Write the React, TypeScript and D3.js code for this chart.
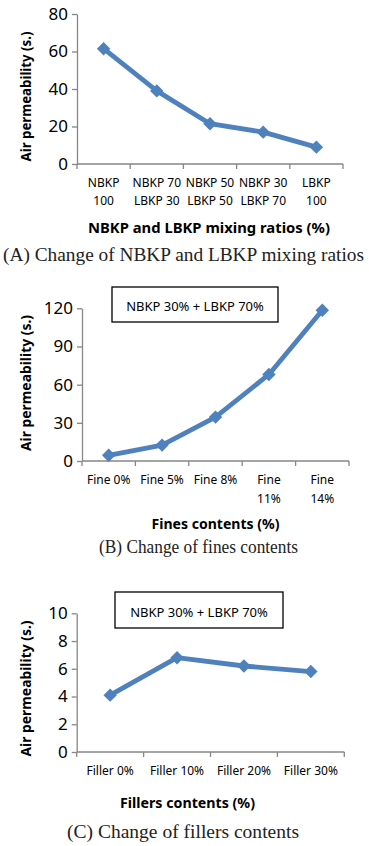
import React, { useEffect, useRef } from 'react';
import * as d3 from 'd3';

// chart A
const mixCategories = [
  ['NBKP', '100'],
  ['NBKP 70', 'LBKP 30'],
  ['NBKP 50', 'LBKP 50'],
  ['NBKP 30', 'LBKP 70'],
  ['LBKP', '100'],
];
const mixValues = [61.5, 39, 21.5, 17, 9];
const mixTicks = [0, 20, 40, 60, 80];

// chart B
const fineCategories = [['Fine 0%'], ['Fine 5%'], ['Fine 8%'], ['Fine', '11%'], ['Fine', '14%']];
const fineValues = [4.5, 12.5, 34.5, 68, 118.5];
const fineTicks = [0, 30, 60, 90, 120];

// chart C
const fillerCategories = [['Filler 0%'], ['Filler 10%'], ['Filler 20%'], ['Filler 30%']];
const fillerValues = [4.1, 6.8, 6.2, 5.8];
const fillerTicks = [0, 2, 4, 6, 8, 10];

const boxLabel = 'NBKP 30% + LBKP 70%';
const yTitle = 'Air permeability (s.)';

const BLUE = '#4f81bd';
const AXIS = '#868686';
const SANS = '"Noto Sans", "Open Sans", sans-serif';
const SERIF = '"Liberation Serif", "DejaVu Serif", serif';

interface PanelSpec {
  cats: string[][];
  values: number[];
  ticks: number[];
  x0: number;
  x1: number;
  yTop: number;
  yBottom: number;
  labelY: number;
  lineGap: number;
  xTitle: string;
  xTitleX: number;
  xTitleY: number;
  xTitleW: number;
  yTitleY: number;
  yTitleW: number;
  caption: string;
  captionX: number;
  captionY: number;
  captionW: number;
  box?: { x: number; y: number; w: number; h: number; textY: number };
}

const panels: PanelSpec[] = [
  {
    cats: mixCategories, values: mixValues, ticks: mixTicks,
    x0: 77, x1: 343, yTop: 14, yBottom: 164,
    labelY: 187, lineGap: 18,
    xTitle: 'NBKP and LBKP mixing ratios (%)', xTitleX: 209, xTitleY: 233, xTitleW: 242,
    yTitleY: 96.5, yTitleW: 130,
    caption: '(A) Change of NBKP and LBKP mixing ratios', captionX: 183.5, captionY: 261, captionW: 361,
  },
  {
    cats: fineCategories, values: fineValues, ticks: fineTicks,
    x0: 82, x1: 349, yTop: 308.3, yBottom: 461,
    labelY: 484, lineGap: 19,
    xTitle: 'Fines contents (%)', xTitleX: 215.5, xTitleY: 529, xTitleW: 128,
    yTitleY: 383, yTitleW: 136,
    caption: '(B) Change of fines contents', captionX: 198.5, captionY: 553, captionW: 199,
    box: { x: 112, y: 287, w: 166, h: 35, textY: 311 },
  },
  {
    cats: fillerCategories, values: fillerValues, ticks: fillerTicks,
    x0: 76.7, x1: 344.3, yTop: 613.3, yBottom: 752,
    labelY: 775, lineGap: 18,
    xTitle: 'Fillers contents (%)', xTitleX: 187.5, xTitleY: 808, xTitleW: 135,
    yTitleY: 688.5, yTitleW: 136,
    caption: '(C) Change of fillers contents', captionX: 183, captionY: 838, captionW: 232,
    box: { x: 115, y: 592, w: 168, h: 36, textY: 617 },
  },
];

const drawPanel = (root: d3.Selection<SVGSVGElement, unknown, null, undefined>, p: PanelSpec) => {
  const g = root.append('g');
  const idx = p.values.map((_, i) => String(i));

  const x = d3.scaleBand().domain(idx).range([p.x0, p.x1]).paddingInner(0).paddingOuter(0);
  const y = d3.scaleLinear().domain([0, p.ticks[p.ticks.length - 1]]).range([p.yBottom, p.yTop]);
  const cx = (i: number) => (x(String(i)) || 0) + x.bandwidth() / 2;

  // y axis
  const yAxis = g.append('g')
    .attr('transform', `translate(${p.x0},0)`)
    .call(d3.axisLeft(y).tickValues(p.ticks).tickSize(5).tickSizeOuter(0).tickPadding(4));
  yAxis.select('.domain').attr('stroke', AXIS).attr('stroke-width', 1.3);
  yAxis.selectAll('.tick line').attr('stroke', AXIS).attr('stroke-width', 1.3);
  yAxis.selectAll('.tick text')
    .attr('font-family', SANS)
    .attr('font-size', 17)
    .attr('fill', '#000');

  // x axis, ticks on the band edges
  g.append('line')
    .attr('x1', p.x0).attr('x2', p.x1)
    .attr('y1', p.yBottom).attr('y2', p.yBottom)
    .attr('stroke', AXIS).attr('stroke-width', 1.3);
  const edges = idx.map((d) => x(d) || 0).concat([p.x1]);
  g.selectAll('.xtick')
    .data(edges)
    .enter()
    .append('line')
    .attr('x1', (d) => d).attr('x2', (d) => d)
    .attr('y1', p.yBottom).attr('y2', p.yBottom + 5)
    .attr('stroke', AXIS).attr('stroke-width', 1.3);

  // category labels
  g.selectAll('.xlab')
    .data(p.cats)
    .enter()
    .append('text')
    .attr('text-anchor', 'middle')
    .attr('font-family', SANS)
    .attr('font-size', 12)
    .attr('fill', '#000')
    .each(function (lines, i) {
      d3.select(this)
        .selectAll('tspan')
        .data(lines)
        .enter()
        .append('tspan')
        .attr('x', cx(i))
        .attr('y', (_, j) => p.labelY + j * p.lineGap)
        .text((t) => t);
    });

  // line + diamond markers
  const line = d3.line<number>()
    .x((_, i) => cx(i))
    .y((d) => y(d));
  g.append('path')
    .datum(p.values)
    .attr('d', line)
    .attr('fill', 'none')
    .attr('stroke', BLUE)
    .attr('stroke-width', 4.8)
    .attr('stroke-linejoin', 'round');
  const diamond = d3.symbol().type(d3.symbolDiamond2).size(115);
  g.selectAll('.mark')
    .data(p.values)
    .enter()
    .append('path')
    .attr('d', diamond)
    .attr('transform', (d, i) => `translate(${cx(i)},${y(d)})`)
    .attr('fill', BLUE);

  if (p.box) {
    g.append('rect')
      .attr('x', p.box.x).attr('y', p.box.y)
      .attr('width', p.box.w).attr('height', p.box.h)
      .attr('fill', '#fff').attr('stroke', '#000').attr('stroke-width', 1.3);
    g.append('text')
      .attr('x', p.box.x + p.box.w / 2).attr('y', p.box.textY)
      .attr('text-anchor', 'middle')
      .attr('font-family', SANS).attr('font-size', 13)
      .text(boxLabel);
  }

  // titles
  g.append('text')
    .attr('x', p.xTitleX).attr('y', p.xTitleY)
    .attr('text-anchor', 'middle')
    .attr('font-family', SANS).attr('font-size', 14).attr('font-weight', 'bold')
    .attr('textLength', p.xTitleW)
    .attr('lengthAdjust', 'spacingAndGlyphs')
    .text(p.xTitle);
  g.append('text')
    .attr('transform', `translate(31,${p.yTitleY}) rotate(-90)`)
    .attr('text-anchor', 'middle')
    .attr('font-family', SANS).attr('font-size', 13.5).attr('font-weight', 'bold')
    .attr('textLength', p.yTitleW)
    .attr('lengthAdjust', 'spacingAndGlyphs')
    .text(yTitle);
  g.append('text')
    .attr('x', p.captionX).attr('y', p.captionY)
    .attr('text-anchor', 'middle')
    .attr('font-family', SERIF).attr('font-size', 18.5)
    .attr('textLength', p.captionW)
    .attr('lengthAdjust', 'spacingAndGlyphs')
    .attr('fill', '#222')
    .text(p.caption);
};

const App = () => {
  const ref = useRef<SVGSVGElement>(null);

  useEffect(() => {
    if (!ref.current) return;
    const svg = d3.select(ref.current);
    svg.selectAll('*').remove();
    svg.append('rect').attr('width', 369).attr('height', 846).attr('fill', '#fff');
    panels.forEach((p) => drawPanel(svg, p));
  });

  return (
    <svg
      ref={ref}
      width={369}
      height={846}
      style={{ position: 'absolute', left: 0, top: 0, display: 'block' }}
    />
  );
};

export default App;
